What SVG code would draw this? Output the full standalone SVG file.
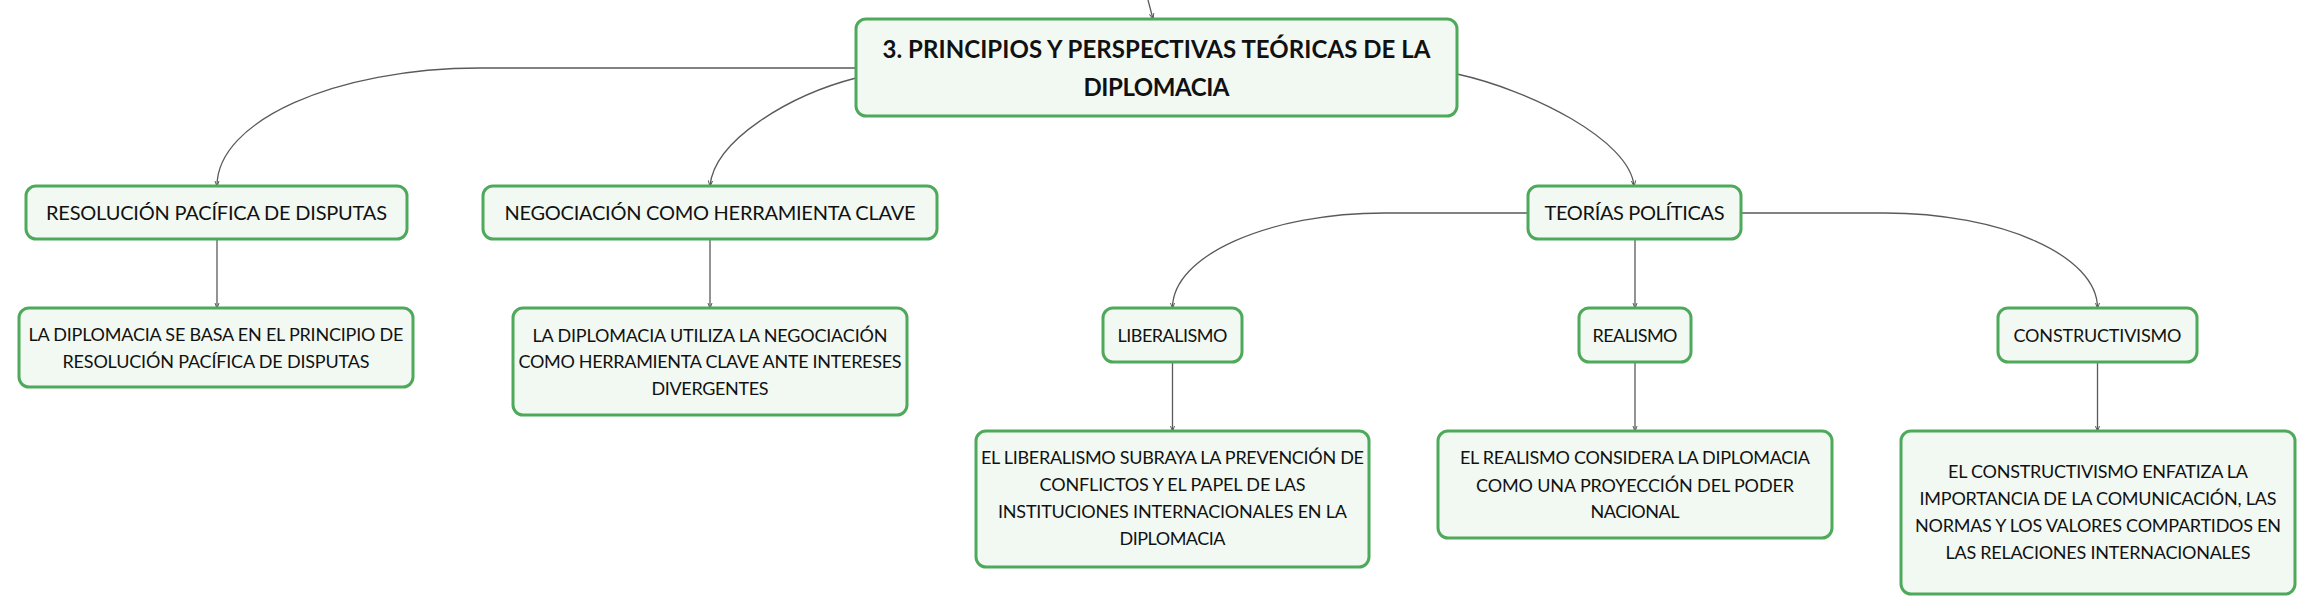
<svg xmlns="http://www.w3.org/2000/svg" width="2315" height="615" viewBox="0 0 2315 615">
<style>
.box{fill:#f2f9f3;stroke:#4fa95b;stroke-width:3}
.t{font-family:Lato,"Noto Sans","Liberation Sans",sans-serif;fill:#111;text-anchor:middle}
.t1{font-size:20px}
.t2{font-size:18px}
.d{font-size:18px}
.root{font-size:24px;font-weight:bold}
.c{fill:none;stroke:#5a5a5a;stroke-width:1.3}
</style>
<defs>
<marker id="ah" viewBox="0 0 6 6" refX="5.5" refY="3" markerWidth="6" markerHeight="6" markerUnits="userSpaceOnUse" orient="auto">
<path d="M0,0.8 L6,3 L0,5.2" fill="none" stroke="#5a5a5a" stroke-width="1"/>
</marker>
</defs>
<rect width="2315" height="615" fill="#ffffff"/>
<g id="connectors">
<path class="c" d="M1148,0 L1153,19" marker-end="url(#ah)"/>
<path class="c" d="M856,68 H480 C335,68 217,121 217,186" marker-end="url(#ah)"/>
<path class="c" d="M856,78 C790,95 714,140 710,186" marker-end="url(#ah)"/>
<path class="c" d="M1457,74 C1530,90 1630,140 1634,186" marker-end="url(#ah)"/>
<path class="c" d="M217,239 V308" marker-end="url(#ah)"/>
<path class="c" d="M710,239 V308" marker-end="url(#ah)"/>
<path class="c" d="M1528,213 H1385 C1268,213 1172.5,255.6 1172.5,308" marker-end="url(#ah)"/>
<path class="c" d="M1635,239 V308" marker-end="url(#ah)"/>
<path class="c" d="M1741,213 H1884 C2001.6,213 2097.5,255.6 2097.5,308" marker-end="url(#ah)"/>
<path class="c" d="M1172.5,362 V431" marker-end="url(#ah)"/>
<path class="c" d="M1635,362 V431" marker-end="url(#ah)"/>
<path class="c" d="M2097.5,362 V431" marker-end="url(#ah)"/>
</g>
<g id="root">
<rect class="box" x="856" y="19" width="601" height="97" rx="10"/>
<text class="t root" x="1156.5" y="57.6" textLength="548">3. PRINCIPIOS Y PERSPECTIVAS TEÓRICAS DE LA</text>
<text class="t root" x="1156.5" y="95.6" textLength="146">DIPLOMACIA</text>
</g>
<g id="resolucion">
<rect class="box" x="26" y="186" width="381" height="53" rx="10"/>
<text class="t t1" x="216.5" y="220.2" textLength="341">RESOLUCIÓN PACÍFICA DE DISPUTAS</text>
</g>
<g id="negociacion">
<rect class="box" x="483" y="186" width="454" height="53" rx="10"/>
<text class="t t1" x="710" y="220.2" textLength="411">NEGOCIACIÓN COMO HERRAMIENTA CLAVE</text>
</g>
<g id="teorias">
<rect class="box" x="1528" y="186" width="213" height="53" rx="10"/>
<text class="t t1" x="1634.5" y="220.2" textLength="180">TEORÍAS POLÍTICAS</text>
</g>
<g id="resolucion-desc">
<rect class="box" x="19" y="308" width="394" height="79" rx="10"/>
<text class="t d" x="216" y="340.5" textLength="375">LA DIPLOMACIA SE BASA EN EL PRINCIPIO DE</text>
<text class="t d" x="216" y="367.5" textLength="307">RESOLUCIÓN PACÍFICA DE DISPUTAS</text>
</g>
<g id="negociacion-desc">
<rect class="box" x="513" y="308" width="394" height="107" rx="10"/>
<text class="t d" x="710" y="341.5" textLength="355">LA DIPLOMACIA UTILIZA LA NEGOCIACIÓN</text>
<text class="t d" x="710" y="368.2" textLength="383">COMO HERRAMIENTA CLAVE ANTE INTERESES</text>
<text class="t d" x="710" y="394.8" textLength="117">DIVERGENTES</text>
</g>
<g id="liberalismo">
<rect class="box" x="1103" y="308" width="139" height="54" rx="10"/>
<text class="t t2" x="1172.5" y="341.5" textLength="110">LIBERALISMO</text>
</g>
<g id="realismo">
<rect class="box" x="1579" y="308" width="112" height="54" rx="10"/>
<text class="t t2" x="1635" y="341.5" textLength="85">REALISMO</text>
</g>
<g id="constructivismo">
<rect class="box" x="1998" y="308" width="199" height="54" rx="10"/>
<text class="t t2" x="2097.5" y="341.5" textLength="168">CONSTRUCTIVISMO</text>
</g>
<g id="liberalismo-desc">
<rect class="box" x="976" y="431" width="393" height="136" rx="10"/>
<text class="t d" x="1172.5" y="464.2" textLength="383">EL LIBERALISMO SUBRAYA LA PREVENCIÓN DE</text>
<text class="t d" x="1172.5" y="490.8" textLength="266">CONFLICTOS Y EL PAPEL DE LAS</text>
<text class="t d" x="1172.5" y="518.2" textLength="349">INSTITUCIONES INTERNACIONALES EN LA</text>
<text class="t d" x="1172.5" y="544.8" textLength="106">DIPLOMACIA</text>
</g>
<g id="realismo-desc">
<rect class="box" x="1438" y="431" width="394" height="107" rx="10"/>
<text class="t d" x="1635" y="463.8" textLength="350">EL REALISMO CONSIDERA LA DIPLOMACIA</text>
<text class="t d" x="1635" y="491.5" textLength="318">COMO UNA PROYECCIÓN DEL PODER</text>
<text class="t d" x="1635" y="518.2" textLength="89">NACIONAL</text>
</g>
<g id="constructivismo-desc">
<rect class="box" x="1901" y="431" width="394" height="163" rx="10"/>
<text class="t d" x="2098" y="478.2" textLength="300">EL CONSTRUCTIVISMO ENFATIZA LA</text>
<text class="t d" x="2098" y="504.8" textLength="357">IMPORTANCIA DE LA COMUNICACIÓN, LAS</text>
<text class="t d" x="2098" y="532.2" textLength="366">NORMAS Y LOS VALORES COMPARTIDOS EN</text>
<text class="t d" x="2098" y="558.8" textLength="305">LAS RELACIONES INTERNACIONALES</text>
</g>
</svg>
